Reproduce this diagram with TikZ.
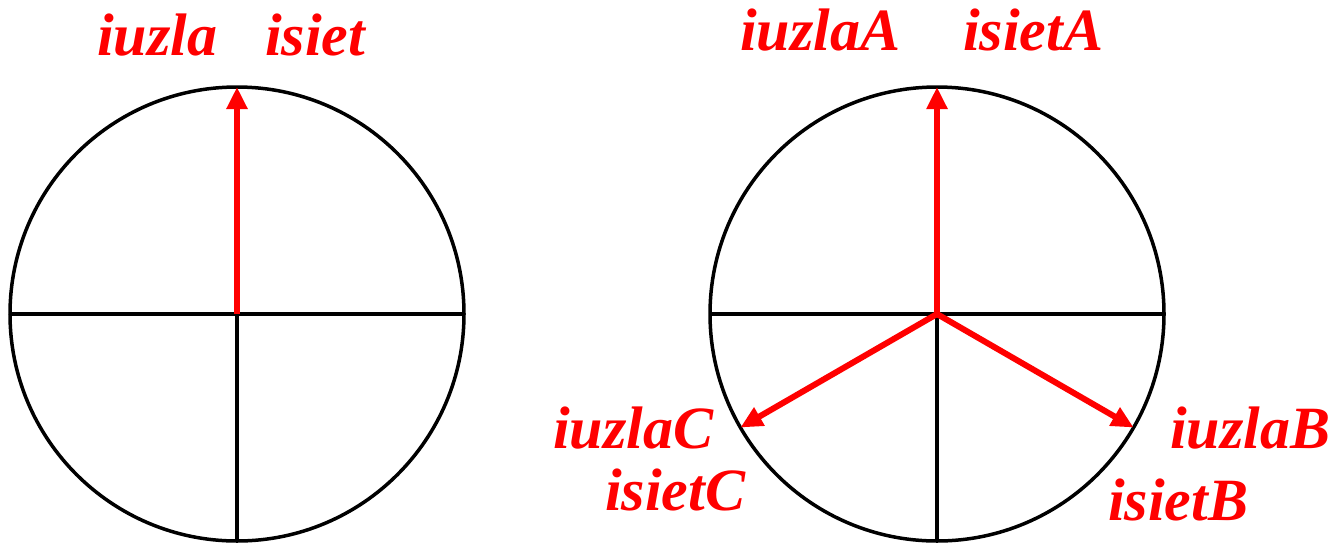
\documentclass[tikz,border=0pt]{standalone}
\usepackage{fontspec}
\setmainfont{Liberation Serif}
\usetikzlibrary{arrows.meta}
\begin{document}
\begin{tikzpicture}[x=1pt,y=-1pt,
  ring/.style={circle,draw=black,line width=3.5pt,minimum size=454pt,inner sep=0pt,outer sep=0pt},
  axis/.style={draw=black,line width=3.5pt},
  vec/.style={draw=red,line width=6pt,-{Triangle[length=22pt,width=20pt]}},
  lbl/.style={text=red,font=\fontsize{60}{66}\selectfont\bfseries\itshape,inner sep=0pt,anchor=base west}]
\useasboundingbox (0,0) rectangle (1337,544);
% left
\node[ring] (L) at (237,314) {};
\coordinate (LC) at (237,314);
\draw[axis] (L.west) -- (L.east);
\draw[axis] (LC) -- (L.south);
\draw[vec] (LC) -- (L.north);
\node[lbl] (l1) at (97,55) {iuzla};
\node[lbl] (l2) at (265,55) {isiet};
% right
\node[ring] (R) at (937,314) {};
\coordinate (RC) at (937,314);
\draw[axis] (R.west) -- (R.east);
\draw[axis] (RC) -- (R.south);
\draw[vec] (RC) -- (R.north);
\draw[vec] (RC) -- (R.-30);
\draw[vec] (RC) -- (R.210);
\node[lbl] (a1) at (740,50) {iuzlaA};
\node[lbl] (a2) at (963,50) {isietA};
\node[lbl] (c1) at (553,448) {iuzlaC};
\node[lbl] (c2) at (605,510) {isietC};
\node[lbl] (b1) at (1170,448) {iuzlaB};
\node[lbl] (b2) at (1108,520) {isietB};
\end{tikzpicture}
\end{document}
